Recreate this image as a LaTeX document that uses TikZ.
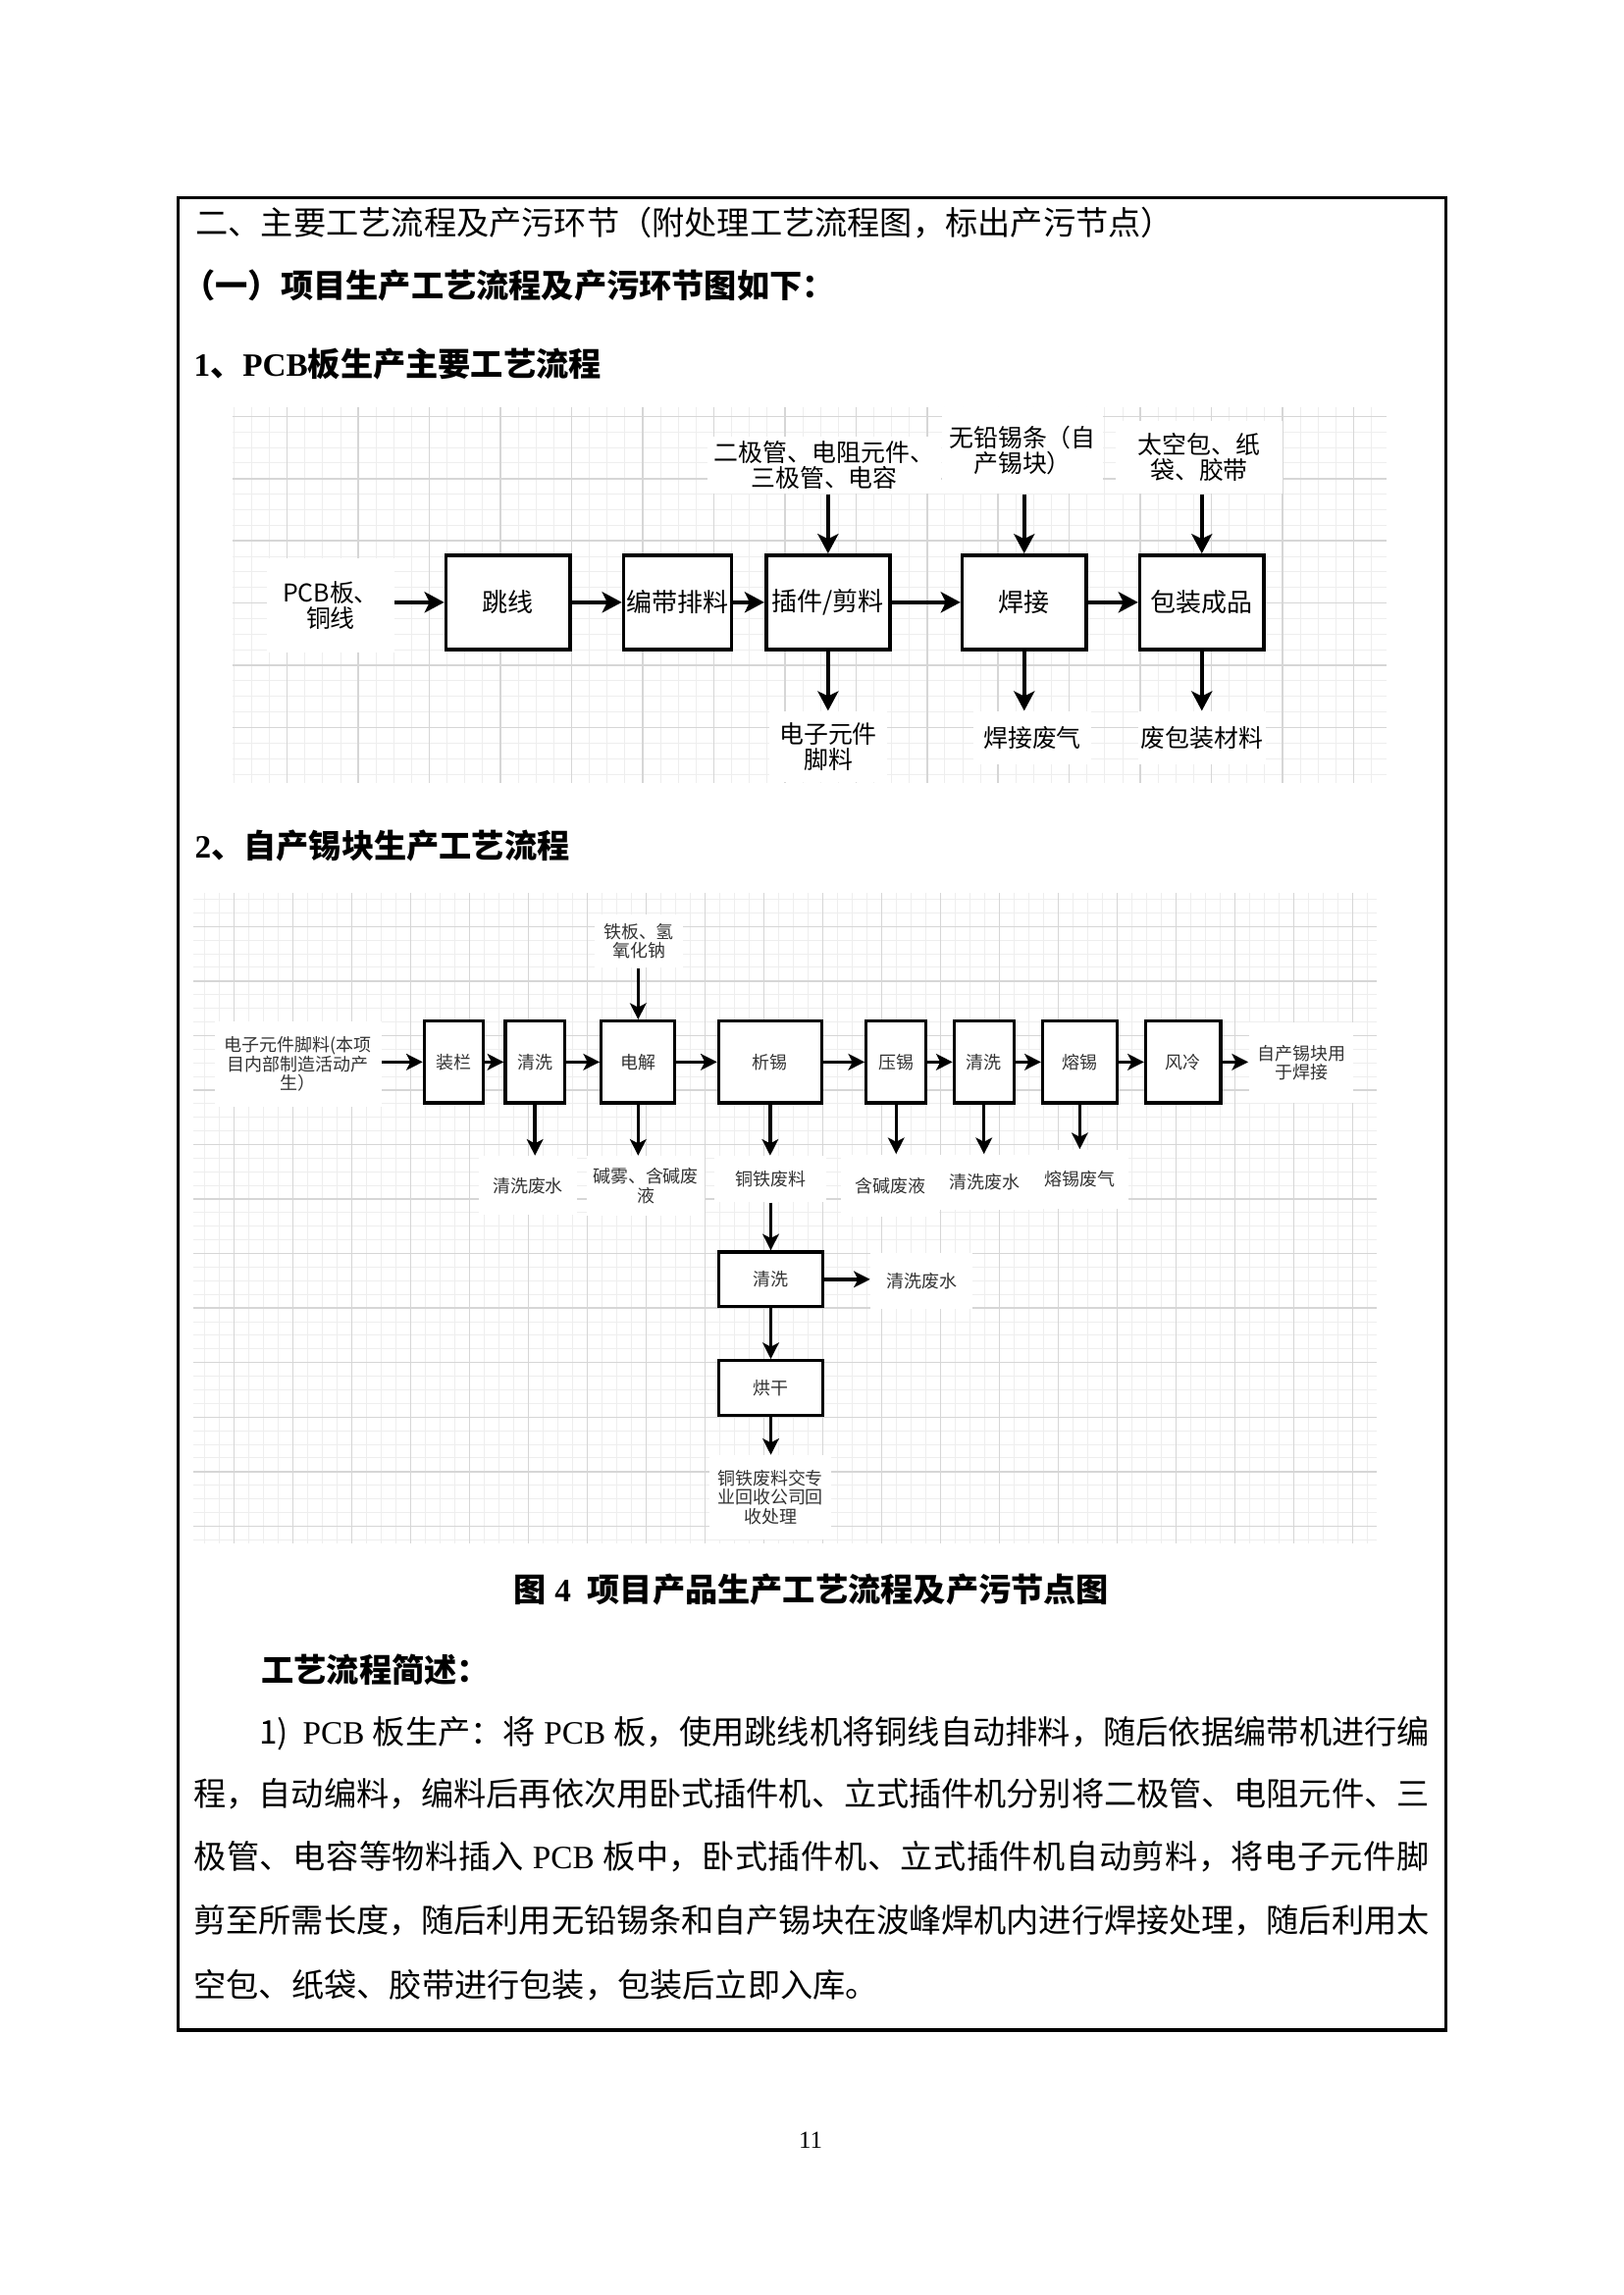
\documentclass[tikz,border=0pt]{standalone}
\usepackage{fontspec}
\usetikzlibrary{arrows.meta}
\setmainfont{Noto Sans CJK SC}
\newfontfamily\lat{Liberation Serif}
\newdimen\pxu \pxu=0.36135pt
\makeatletter
\newcommand\jline[2]{\hbox to #1\pxu{\@tfor\jl@t:=#2\do{\jl@t\hskip 0pt plus 1fil minus 1fil}\unskip}}
\makeatother
\definecolor{gmaj}{HTML}{D6D6D6}
\definecolor{gmin}{HTML}{EEEEEE}
\definecolor{txtB}{HTML}{333333}
\tikzset{
  sz/.style 2 args={minimum width=#1\pxu, minimum height=#2\pxu},
  body/.style={anchor=base west, inner sep=0pt, font=\fontsize{12}{14}\selectfont},
  bodyb/.style={anchor=base west, inner sep=0pt, font=\fontsize{12}{14}\selectfont\bfseries},
  gminor/.style={draw=gmin, line width=0.35pt},
  gmajor/.style={draw=gmaj, line width=0.55pt},
  boxA/.style={draw, line width=1.35pt, fill=white, inner sep=0pt, font=\fontsize{9.4}{10}\selectfont},
  labA/.style={fill=white, inner sep=0pt, align=center, font=\fontsize{9}{9.2}\selectfont},
  arrA/.style={line width=1.35pt, -{Stealth[length=7.2pt,width=7.6pt,inset=1.8pt]}},
  boxB/.style={draw, line width=1.2pt, fill=white, inner sep=0pt, text=txtB, font=\fontsize{6.5}{7}\selectfont},
  labB/.style={fill=white, inner sep=0pt, align=center, text=txtB, font=\fontsize{6.5}{7}\selectfont},
  arrB/.style={line width=1.2pt, -{Stealth[length=6pt,width=6pt,inset=1.5pt]}},
}
\begin{document}
\begin{tikzpicture}[x=0.36135pt, y=-0.36135pt]
\fill[white] (0,0) rectangle (1654,2339);
\useasboundingbox (0,0) rectangle (1654,2339);

% frame
\draw[line width=1.2pt] (181.5,201.7) rectangle (1473.5,2069);

% headings
\node[body] (h1) at (199,239.6) {二、主要工艺流程及产污环节（附处理工艺流程图，标出产污节点）};
\node[bodyb] (h2) at (186,303.5) {（一）项目生产工艺流程及产污环节图如下：};
\node[bodyb] (h3) at (197,383.5) {{\lat\bfseries 1}、{\lat\bfseries PCB}板生产主要工艺流程};

% grid 1
\foreach \i in {0,...,64} \draw[gminor] ({238.37+18.1125*\i},415) -- ({238.37+18.1125*\i},798);
\foreach \j in {0,...,23} \draw[gminor] (236.7,{424.3+15.8625*\j}) -- (1413.3,{424.3+15.8625*\j});
\foreach \i in {0,...,15} \draw[gmajor] ({292.7+72.45*\i},415) -- ({292.7+72.45*\i},798);
\foreach \j in {0,...,5} \draw[gmajor] (236.7,{424.3+63.45*\j}) -- (1413.3,{424.3+63.45*\j});

% diagram 1 labels
\node[labA, sz={129.9}{96}] (d1in) at (336.95,617) {PCB板、\\铜线};
\node[labA, sz={238}{58}] (d1t1) at (840,474) {二极管、电阻元件、\\三极管、电容};
\node[labA, sz={164}{88}] (d1t2) at (1042,459) {无铅锡条（自\\产锡块）};
\node[labA, sz={170}{74}] (d1t3) at (1222,466) {太空包、纸\\袋、胶带};
\node[labA, sz={120}{72}] (d1o1) at (844,761) {电子元件\\脚料};
\node[labA, sz={120}{54}] (d1o2) at (1052,752) {焊接废气};
\node[labA, sz={130}{54}] (d1o3) at (1225,752) {废包装材料};

% diagram 1 boxes
\node[boxA, sz={126.3}{95.7}] (d1b1) at (517.65,613.85) {跳线};
\node[boxA, sz={110.1}{95.7}] (d1b2) at (690.55,613.85) {编带排料};
\node[boxA, sz={126.3}{95.7}] (d1b3) at (843.85,613.85) {插件/剪料};
\node[boxA, sz={126.3}{95.7}] (d1b4) at (1043.75,613.85) {焊接};
\node[boxA, sz={126.3}{95.7}] (d1b5) at (1224.75,613.85) {包装成品};

% diagram 1 arrows
\draw[arrA] (d1in.east |- d1b1.west) -- (d1b1.west);
\draw[arrA] (d1b1) -- (d1b2);
\draw[arrA] (d1b2) -- (d1b3);
\draw[arrA] (d1b3) -- (d1b4);
\draw[arrA] (d1b4) -- (d1b5);
\draw[arrA] (d1t1.south -| d1b3.north) -- (d1b3.north);
\draw[arrA] (d1t2.south -| d1b4.north) -- (d1b4.north);
\draw[arrA] (d1t3.south -| d1b5.north) -- (d1b5.north);
\draw[arrA] (d1b3.south) -- (d1b3.south |- d1o1.north);
\draw[arrA] (d1b4.south) -- (d1b4.south |- d1o2.north);
\draw[arrA] (d1b5.south) -- (d1b5.south |- d1o3.north);

% heading 2
\node[bodyb] (h4) at (198,874.6) {{\lat\bfseries 2}、自产锡块生产工艺流程};

% grid 2
\foreach \i in {0,...,79} \draw[gminor] ({208.3+15*\i},910) -- ({208.3+15*\i},1573);
\foreach \j in {0,...,47} \draw[gminor] (197,{916.5+13.8875*\j}) -- (1403,{916.5+13.8875*\j});
\foreach \i in {0,...,19} \draw[gmajor] ({238.3+60*\i},910) -- ({238.3+60*\i},1573);
\foreach \j in {0,...,11} \draw[gmajor] (197,{944.3+55.55*\j}) -- (1403,{944.3+55.55*\j});

% diagram 2 labels
\node[labB, sz={169.7}{87.6}] (d2in) at (303.85,1084.5) {电子元件脚料(本项\\目内部制造活动产\\生）};
\node[labB, sz={90}{54}] (d2top) at (651,959) {铁板、氢\\氧化钠};
\node[labB, sz={100}{60}] (d2o1) at (538,1208.3) {清洗废水};
\node[labB, sz={120}{60.4}] (d2o2) at (658,1208.5) {碱雾、含碱废\\液};
\node[labB, sz={114}{46.7}] (d2o3) at (785,1201.65) {铜铁废料};
\node[labB, sz={100}{63.2}] (d2o4) at (907,1208.3) {含碱废液};
\node[labB, sz={100}{56.6}] (d2o5) at (1003,1205) {清洗废水};
\node[labB, sz={100}{60}] (d2o6) at (1100,1201.7) {熔锡废气};
\node[labB, sz={106.8}{82.6}] (d2out) at (1326,1083) {自产锡块用\\于焊接};
\node[labB, sz={103.7}{57.4}] (d2o7) at (939.15,1305.7) {清洗废水};
\node[labB, sz={124}{85.4}] (d2fin) at (785,1526) {铜铁废料交专\\业回收公司回\\收处理};

% diagram 2 boxes
\node[boxB, sz={60.3}{83.3}] (d2b1) at (462.55,1082.35) {装栏};
\node[boxB, sz={60.3}{83.3}] (d2b2) at (545.15,1082.35) {清洗};
\node[boxB, sz={75}{83.3}] (d2b3) at (650.3,1082.35) {电解};
\node[boxB, sz={104.9}{83.3}] (d2b4) at (784.85,1082.35) {析锡};
\node[boxB, sz={60.9}{83.3}] (d2b5) at (913.25,1082.35) {压锡};
\node[boxB, sz={60.9}{83.3}] (d2b6) at (1002.75,1082.35) {清洗};
\node[boxB, sz={75.8}{83.3}] (d2b7) at (1100.4,1082.35) {熔锡};
\node[boxB, sz={76.5}{83.3}] (d2b8) at (1205.75,1082.35) {风冷};
\node[boxB, sz={105.6}{55.7}] (d2b9) at (785.5,1303.85) {清洗};
\node[boxB, sz={105.6}{55.6}] (d2b10) at (785.5,1414.5) {烘干};

% diagram 2 arrows
\draw[arrB] (d2in.east |- d2b1.west) -- (d2b1.west);
\draw[arrB] (d2b1) -- (d2b2);
\draw[arrB] (d2b2) -- (d2b3);
\draw[arrB] (d2b3) -- (d2b4);
\draw[arrB] (d2b4) -- (d2b5);
\draw[arrB] (d2b5) -- (d2b6);
\draw[arrB] (d2b6) -- (d2b7);
\draw[arrB] (d2b7) -- (d2b8);
\draw[arrB] (d2b8.east) -- (d2out.west |- d2b8.east);
\draw[arrB] (d2top.south -| d2b3.north) -- (d2b3.north);
\draw[arrB] (d2b2.south) -- (d2b2.south |- d2o1.north);
\draw[arrB] (d2b3.south) -- (d2b3.south |- d2o2.north);
\draw[arrB] (d2b4.south) -- (d2b4.south |- d2o3.north);
\draw[arrB] (d2b5.south) -- (d2b5.south |- d2o4.north);
\draw[arrB] (d2b6.south) -- (d2b6.south |- d2o5.north);
\draw[arrB] (d2b7.south) -- (d2b7.south |- d2o6.north);
\draw[arrB] (d2o3.south -| d2b9.north) -- (d2b9.north);
\draw[arrB] (d2b9.east) -- (d2o7.west |- d2b9.east);
\draw[arrB] (d2b9) -- (d2b10);
\draw[arrB] (d2b10.south) -- (d2b10.south |- d2fin.north);

% caption and description
\node[bodyb, anchor=base] (cap) at (827,1632.6) {图{\lat\bfseries\ 4\ \ }项目产品生产工艺流程及产污节点图};
\node[bodyb] (jsh) at (266,1714.6) {工艺流程简述：};
\node[body] (p1) at (263.5,1777.6) {\jline{1193}{{{1)\ \ }}{{\lat PCB\ }}板生产：将{{\lat\ PCB\ }}板，使用跳线机将铜线自动排料，随后依据编带机进行编}};
\node[body] (p2) at (197,1840.6) {\jline{1259}{程，自动编料，编料后再依次用卧式插件机、立式插件机分别将二极管、电阻元件、三}};
\node[body] (p3) at (197,1904.6) {\jline{1259}{极管、电容等物料插入{{\lat\ PCB\ }}板中，卧式插件机、立式插件机自动剪料，将电子元件脚}};
\node[body] (p4) at (197,1969.6) {\jline{1259}{剪至所需长度，随后利用无铅锡条和自产锡块在波峰焊机内进行焊接处理，随后利用太}};
\node[body] (p5) at (197,2035.6) {空包、纸袋、胶带进行包装，包装后立即入库。};

% page number
\node[inner sep=0pt, font=\fontsize{9}{10}\selectfont\lat] (pg) at (826,2181) {11};
\end{tikzpicture}
\end{document}
